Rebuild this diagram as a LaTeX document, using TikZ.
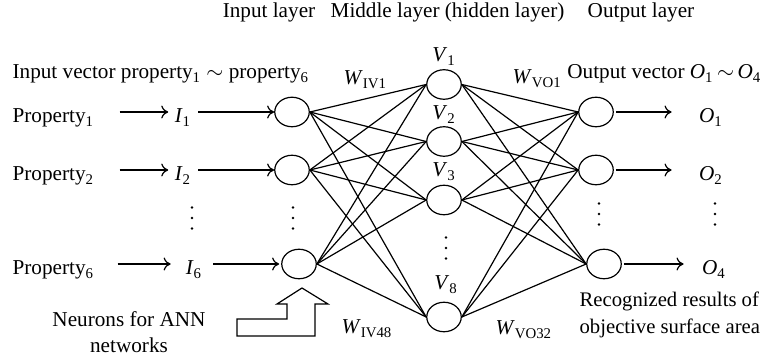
\documentclass[tikz,border=0pt]{standalone}
\usepackage{fontspec}
\setmainfont{Liberation Serif}
\usetikzlibrary{arrows.meta,shapes.geometric}
\newcommand\myI[1]{\textit{I}\textsubscript{#1}}
\newcommand\myV[1]{\textit{V}\textsubscript{#1}}
\newcommand\myO[1]{\textit{O}\textsubscript{#1}}
\newcommand\myW[1]{\textit{W}\textsubscript{#1}}
\begin{document}
\begin{tikzpicture}[x=0.5pt,y=-0.5pt, line width=0.6pt,
  every node/.style={font=\fontsize{10.6}{13}\selectfont},
  neuron/.style={draw, ellipse, minimum width=17.25pt, minimum height=14.75pt, inner sep=0pt},
  lbl/.style={inner sep=0pt, text height=13pt, text depth=2pt},
  txt/.style={inner sep=0pt, anchor=base},
  small/.style={font=\fontsize{10.35}{13}\selectfont},
  arr/.style={-{To[length=3.5pt,width=6.5pt]}},
  link/.style={line width=0.6pt}]
\useasboundingbox (0,0) rectangle (764,362);

% headers
\node[txt] (hin) at (269,18) {Input layer};
\node[txt] (hmid) at (447.5,18) {Middle layer (hidden layer)};
\node[txt] (hout) at (641,18) {Output layer};
\node[txt, anchor=base west] (ivec) at (12,79) {Input vector property\textsubscript{1} $\sim$ property\textsubscript{6}};
\node[txt, anchor=base east] (ovec) at (762,79) {Output vector \myO{1}\,$\sim$\,\myO{4}};

% neurons
\node[neuron] (n1) at (292,112) {};
\node[neuron] (n2) at (292,170) {};
\node[neuron] (n6) at (299,264) {};
\node[neuron] (h1) at (444,84.5) {};
\node[neuron] (h2) at (444,141.5) {};
\node[neuron] (h3) at (444,200) {};
\node[neuron] (h8) at (444,317) {};
\node[neuron] (o1) at (596,112) {};
\node[neuron] (o2) at (596,170) {};
\node[neuron] (o4) at (604,264) {};

% hidden labels
\node[txt] (v1l) at (444,62) {\myV{1}};
\node[txt] (v2l) at (444,120) {\myV{2}};
\node[txt] (v3l) at (444,177) {\myV{3}};
\node[txt] (v8l) at (446,290) {\myV{8}};

% connections
\foreach \i in {n1,n2,n6}
  \foreach \h in {h1,h2,h3,h8}
    \draw[link] (\i.east) -- (\h.west);
\foreach \h in {h1,h2,h3,h8}
  \foreach \o in {o1,o2,o4}
    \draw[link] (\h.east) -- (\o.west);

% input rows
\node[lbl, anchor=west] (p1) at (12,112) {Property\textsubscript{1}};
\node[lbl] (i1) at (183,112) {\myI{1}};
\draw[arr, shorten <=12.5pt, shorten >=3pt] (p1) -- (i1);
\draw[arr, shorten <=3.3pt] (i1) -- (n1);

\node[lbl, anchor=west] (p2) at (12,170) {Property\textsubscript{2}};
\node[lbl] (i2) at (183,170) {\myI{2}};
\draw[arr, shorten <=12.5pt, shorten >=3pt] (p2) -- (i2);
\draw[arr, shorten <=3.3pt] (i2) -- (n2);

\node[lbl, anchor=west] (p6) at (12,264) {Property\textsubscript{6}};
\node[lbl] (i6) at (194,264) {\myI{6}};
\draw[arr, shorten <=11.5pt, shorten >=7.3pt] (p6) -- (i6);
\draw[arr, shorten <=5.3pt, shorten >=1pt] (i6) -- (n6);

% output rows
\node[lbl] (q1) at (711,112) {\myO{1}};
\draw[arr, shorten <=1pt, shorten >=13.5pt] (o1) -- (q1);
\node[lbl] (q2) at (711,170) {\myO{2}};
\draw[arr, shorten <=1pt, shorten >=13.5pt] (o2) -- (q2);
\node[lbl] (q4) at (714,264) {\myO{4}};
\draw[arr, shorten <=1pt, shorten >=9pt] (o4) -- (q4);

% dots
\foreach \x/\y in {192/218, 293/218, 446/248, 599/214, 715/214}
  \foreach \d in {-1,0,1}
    \fill (\x,{\y+\d*10.5}) circle[radius=0.65pt];

% weight labels
\node[txt, anchor=base west] (wiv1) at (343,85) {\myW{IV1}};
\node[txt, anchor=base west] (wvo1) at (512,84) {\myW{VO1}};
\node[txt, anchor=base west] (wiv48) at (341,334) {\myW{IV48}};
\node[txt, anchor=base west] (wvo32) at (495,335) {\myW{VO32}};

% bottom texts
\node[txt, small, anchor=base west] (rec1) at (579,307) {Recognized results of};
\node[txt, small, anchor=base west] (rec2) at (579,334) {objective surface area};
\node[txt] (neu1) at (129,327) {Neurons for ANN};
\node[txt] (neu2) at (129,353) {networks};

% hollow arrow
\draw[line join=miter] (302,288) -- (328,304) -- (315,304) -- (315,336) -- (237,336)
  -- (237,319) -- (287,319) -- (287,304) -- (277,304) -- cycle;
\end{tikzpicture}
\end{document}
